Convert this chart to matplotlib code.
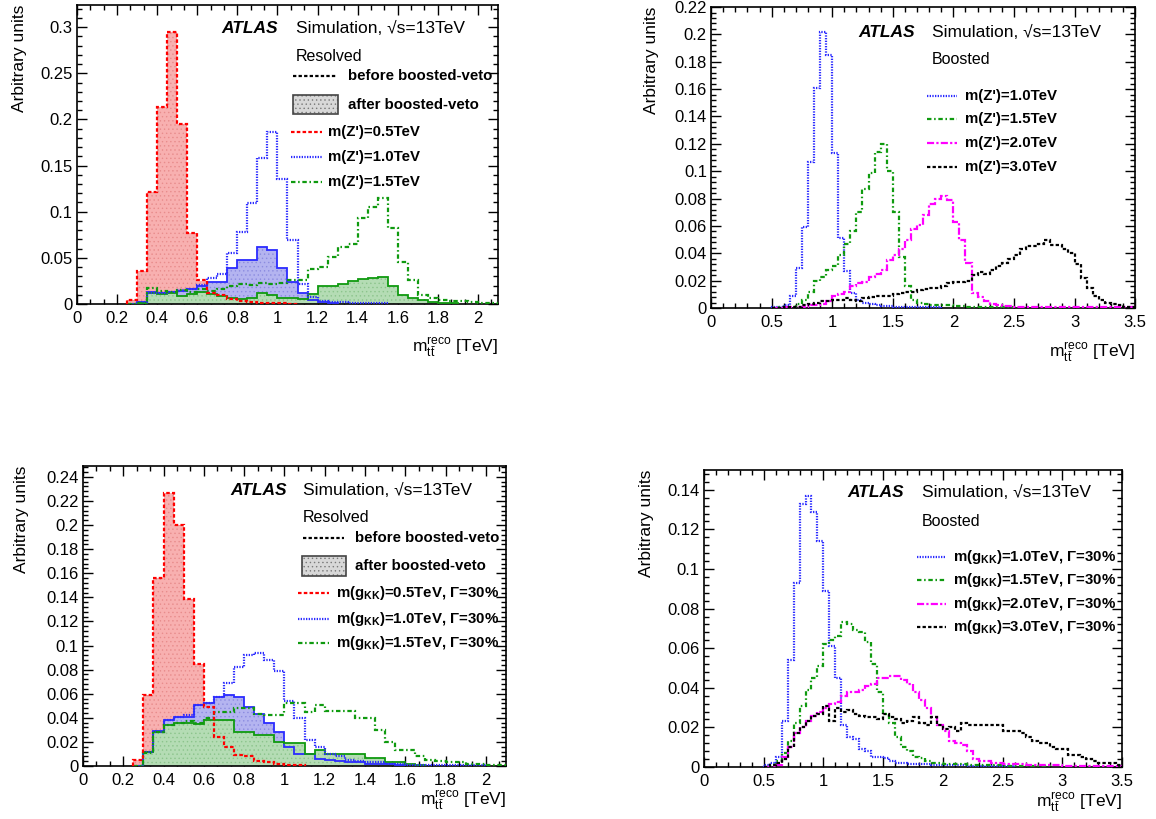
import numpy as np
import matplotlib
matplotlib.use("Agg")
import matplotlib.pyplot as plt
from matplotlib.ticker import MultipleLocator, AutoMinorLocator, FuncFormatter
from matplotlib.patches import Rectangle

plt.rcParams['font.family'] = ['Liberation Sans', 'DejaVu Sans']
plt.rcParams['mathtext.fontset'] = 'custom'
plt.rcParams['mathtext.rm'] = 'Liberation Sans'
plt.rcParams['mathtext.it'] = 'Liberation Sans:italic'
plt.rcParams['mathtext.bf'] = 'Liberation Sans:bold'
plt.rcParams['hatch.linewidth'] = 0.5

# bin width of all histograms (TeV)
bw = 0.05

# ---- Resolved, Z' (bins start at 0.25 TeV) ----
res_start = 0.25
zp05_before = [0.004, 0.036, 0.121, 0.213, 0.295, 0.195, 0.077, 0.026, 0.012, 0.010,
               0.005, 0.003, 0.002, 0.001, 0.001, 0.001, 0.0005]
zp05_after = [0.004, 0.036, 0.121, 0.213, 0.295, 0.195, 0.077, 0.025, 0.011, 0.008,
              0.004, 0.002, 0.001, 0.001]
zp10_before = [0.0, 0.002, 0.012, 0.012, 0.013, 0.015, 0.016, 0.021, 0.028, 0.033,
               0.055, 0.078, 0.109, 0.158, 0.186, 0.135, 0.069, 0.022, 0.008, 0.003,
               0.002, 0.002, 0.001, 0.001, 0.001, 0.001]
zp10_after = [0.0, 0.002, 0.013, 0.012, 0.013, 0.014, 0.016, 0.019, 0.024, 0.024,
              0.039, 0.048, 0.048, 0.062, 0.058, 0.039, 0.024, 0.012, 0.004, 0.002,
              0.001]
zp15_before = [0.0, 0.001, 0.017, 0.014, 0.013, 0.015, 0.013, 0.016, 0.014, 0.016,
               0.020, 0.022, 0.021, 0.023, 0.022, 0.023, 0.026, 0.026, 0.038, 0.040,
               0.051, 0.062, 0.065, 0.093, 0.105, 0.115, 0.082, 0.046, 0.026, 0.010,
               0.006, 0.004, 0.003, 0.003, 0.002, 0.001, 0.001]
zp15_after = [0.0, 0.001, 0.012, 0.011, 0.012, 0.009, 0.011, 0.013, 0.011, 0.009,
              0.007, 0.005, 0.006, 0.012, 0.010, 0.007, 0.006, 0.005, 0.011, 0.019,
              0.020, 0.022, 0.025, 0.027, 0.028, 0.029, 0.019, 0.010, 0.006, 0.004,
              0.002, 0.001, 0.001]

# ---- Resolved, g_KK (bins start at 0.25 TeV) ----
gkk05_before = [0.005, 0.059, 0.156, 0.227, 0.200, 0.139, 0.085, 0.049, 0.024, 0.016,
                0.009, 0.008, 0.004, 0.003, 0.002, 0.001, 0.001]
gkk05_after = [0.005, 0.059, 0.156, 0.227, 0.200, 0.139, 0.085, 0.048, 0.023, 0.014,
               0.008, 0.006, 0.003, 0.002, 0.001]
gkk10_before = [0.0, 0.012, 0.028, 0.038, 0.041, 0.042, 0.051, 0.052, 0.057, 0.069,
                0.082, 0.092, 0.094, 0.088, 0.079, 0.054, 0.040, 0.022, 0.016, 0.010,
                0.008, 0.005, 0.004, 0.003, 0.003, 0.002, 0.002, 0.001, 0.001, 0.001,
                0.001, 0.001, 0.001, 0.001, 0.001]
gkk10_after = [0.0, 0.012, 0.029, 0.038, 0.041, 0.041, 0.051, 0.052, 0.057, 0.059,
               0.057, 0.049, 0.043, 0.036, 0.028, 0.016, 0.010, 0.010, 0.006, 0.005,
               0.004, 0.003, 0.003, 0.002, 0.002, 0.002, 0.001]
gkk15_before = [0.0, 0.011, 0.028, 0.034, 0.036, 0.037, 0.036, 0.040, 0.045, 0.045,
                0.048, 0.048, 0.043, 0.042, 0.042, 0.052, 0.052, 0.045, 0.051, 0.046,
                0.046, 0.046, 0.040, 0.040, 0.030, 0.020, 0.013, 0.013, 0.008, 0.005,
                0.004, 0.003, 0.003, 0.002, 0.002, 0.001, 0.001]
gkk15_after = [0.0, 0.012, 0.028, 0.034, 0.036, 0.036, 0.035, 0.038, 0.038, 0.038,
               0.028, 0.028, 0.026, 0.026, 0.020, 0.019, 0.019, 0.010, 0.013, 0.010,
               0.010, 0.010, 0.010, 0.007, 0.007, 0.003, 0.003, 0.002, 0.001]

# ---- Boosted, Z' (bins start at 0.5 TeV) ----
boo_start = 0.5
bzp10 = [0.0005, 0.001, 0.002, 0.009, 0.029, 0.059, 0.107, 0.161, 0.202, 0.185,
         0.113, 0.051, 0.027, 0.011, 0.006, 0.004, 0.003, 0.002, 0.0015, 0.0015,
         0.001, 0.001, 0.001, 0.001, 0.0005, 0.0005, 0.0005, 0.0005]
bzp15 = [0.0, 0.0005, 0.001, 0.001, 0.003, 0.006, 0.012, 0.020, 0.023, 0.028,
         0.031, 0.039, 0.047, 0.056, 0.070, 0.087, 0.099, 0.114, 0.120, 0.100,
         0.070, 0.037, 0.016, 0.006, 0.004, 0.003, 0.0025, 0.0025, 0.002, 0.002,
         0.0015, 0.0015, 0.001, 0.001, 0.001, 0.001, 0.0005, 0.0005, 0.0005, 0.0005]
bzp20 = [0.0, 0.0, 0.0005, 0.0005, 0.001, 0.001, 0.002, 0.002, 0.003, 0.005,
         0.009, 0.010, 0.012, 0.016, 0.018, 0.019, 0.023, 0.025, 0.028, 0.035,
         0.039, 0.043, 0.050, 0.058, 0.061, 0.068, 0.076, 0.080, 0.082, 0.079,
         0.063, 0.050, 0.033, 0.011, 0.008, 0.005, 0.003, 0.002, 0.0015, 0.0015,
         0.001, 0.001, 0.001, 0.001, 0.001, 0.0005, 0.0005, 0.0005, 0.0005, 0.0005,
         0.0005, 0.0005, 0.0005, 0.0005, 0.0005, 0.0005, 0.0005, 0.0005, 0.0005, 0.0005]
bzp30 = [0.0, 0.0, 0.0005, 0.001, 0.001, 0.002, 0.003, 0.004, 0.005, 0.005,
         0.006, 0.006, 0.007, 0.006, 0.005, 0.007, 0.008, 0.009, 0.009, 0.009,
         0.010, 0.011, 0.012, 0.012, 0.013, 0.014, 0.015, 0.015, 0.016, 0.018,
         0.019, 0.019, 0.020, 0.024, 0.026, 0.025, 0.028, 0.031, 0.033, 0.036,
         0.039, 0.043, 0.045, 0.045, 0.047, 0.050, 0.046, 0.046, 0.043, 0.040,
         0.032, 0.022, 0.015, 0.009, 0.006, 0.004, 0.003, 0.002, 0.001, 0.001]

# ---- Boosted, g_KK (bins start at 0.5 TeV) ----
bgkk10 = [0.001, 0.002, 0.005, 0.023, 0.054, 0.093, 0.133, 0.137, 0.129, 0.114,
          0.089, 0.061, 0.045, 0.021, 0.015, 0.014, 0.009, 0.008, 0.005, 0.005,
          0.0045, 0.003, 0.002, 0.002, 0.0015, 0.0015, 0.0015, 0.0015, 0.001, 0.001,
          0.001, 0.001, 0.001, 0.001, 0.0005, 0.0005, 0.0005, 0.0005, 0.0005, 0.0005,
          0.0005, 0.0005]
bgkk15 = [0.0, 0.001, 0.003, 0.007, 0.013, 0.022, 0.031, 0.039, 0.045, 0.051,
          0.062, 0.064, 0.066, 0.073, 0.072, 0.069, 0.068, 0.063, 0.052, 0.038,
          0.027, 0.022, 0.015, 0.010, 0.008, 0.005, 0.0045, 0.003, 0.002, 0.002,
          0.0015, 0.0015, 0.0015, 0.0015, 0.001, 0.001, 0.001, 0.001, 0.001, 0.001,
          0.0005, 0.0005, 0.0005, 0.0005, 0.0005, 0.0005, 0.0005, 0.0005]
bgkk20 = [0.0, 0.0, 0.001, 0.005, 0.010, 0.017, 0.020, 0.023, 0.026, 0.028,
          0.030, 0.032, 0.033, 0.036, 0.038, 0.038, 0.039, 0.041, 0.042, 0.045,
          0.045, 0.046, 0.046, 0.044, 0.042, 0.038, 0.034, 0.030, 0.025, 0.021,
          0.018, 0.013, 0.012, 0.011, 0.008, 0.004, 0.003, 0.003, 0.002, 0.002,
          0.0015, 0.0015, 0.0015, 0.0015, 0.001, 0.001, 0.001, 0.001, 0.001, 0.001,
          0.0005, 0.0005, 0.0005, 0.0005, 0.0005, 0.0005, 0.0005, 0.0005, 0.0005, 0.0005]
bgkk30 = [0.0, 0.001, 0.002, 0.004, 0.010, 0.017, 0.020, 0.023, 0.026, 0.027,
          0.031, 0.023, 0.030, 0.028, 0.029, 0.027, 0.026, 0.025, 0.025, 0.024,
          0.027, 0.025, 0.024, 0.022, 0.023, 0.025, 0.022, 0.021, 0.025, 0.021,
          0.019, 0.020, 0.018, 0.022, 0.021, 0.021, 0.021, 0.021, 0.021, 0.021,
          0.018, 0.018, 0.018, 0.017, 0.015, 0.013, 0.012, 0.012, 0.010, 0.009,
          0.009, 0.006, 0.006, 0.005, 0.004, 0.003, 0.002, 0.002, 0.002, 0.001]

# colours and line styles (ROOT-like)
c_red, c_blue, c_green, c_mag, c_blk = '#ff0000', '#2b2bff', '#0f9a0f', '#ff00ff', '#000000'
fill_red, fill_blue, fill_green = '#f8b0b0', '#b4b4f0', '#b4dcb4'
hatch_red, hatch_blue, hatch_green = '#e88c8c', '#8c8ce0', '#8cc48c'
ls_red = (0, (1.6, 1.0))
ls_blue = (0, (0.6, 0.6))
ls_green = (0, (2.0, 1.2, 0.7, 1.2))
ls_mag = (0, (3.2, 1.0, 1.0, 1.0))
ls_blk = (0, (1.5, 1.0))
lw = 1.6
fs_tick = 12
fs_head = 12.5
fs_leg = 10.8


def edges_for(vals, start):
    return start + bw * np.arange(len(vals) + 1)


def draw_fill(ax, vals, start, fc, hc, ec=None):
    e = edges_for(vals, start)
    ax.stairs(vals, e, fill=True, facecolor=fc, edgecolor=hc, hatch='....',
              linewidth=0, zorder=2)
    if ec is not None:
        ax.stairs(vals, e, color=ec, linewidth=1.3, zorder=3)


def draw_line(ax, vals, start, color, ls, z=4):
    ax.stairs(vals, edges_for(vals, start), color=color, linestyle=ls,
              linewidth=lw, zorder=z)


def style_axes(ax, xmax, ymax, xmaj, xminor_n, ymaj, ylab_x, xlab_y):
    ax.set_xlim(0, xmax)
    ax.set_ylim(0, ymax)
    ax.xaxis.set_major_locator(MultipleLocator(xmaj))
    ax.xaxis.set_minor_locator(AutoMinorLocator(xminor_n))
    ax.yaxis.set_major_locator(MultipleLocator(ymaj))
    ax.yaxis.set_minor_locator(AutoMinorLocator(5))
    fmt = FuncFormatter(lambda v, _: '%g' % round(v, 6))
    ax.xaxis.set_major_formatter(fmt)
    ax.yaxis.set_major_formatter(fmt)
    ax.tick_params(which='both', direction='in', top=True, right=True,
                   labelsize=fs_tick, width=1.0)
    ax.tick_params(which='major', length=7)
    ax.tick_params(which='minor', length=3.5)
    ax.tick_params(axis='x', pad=5)
    ax.tick_params(axis='y', pad=3)
    for s in ax.spines.values():
        s.set_linewidth(1.2)
    ax.set_ylabel('Arbitrary units', fontsize=fs_head, loc='top')
    ax.yaxis.set_label_coords(ylab_x, 1.0)
    ax.set_xlabel(r'$\mathrm{m}_{\mathrm{t\bar{t}}}^{\mathrm{reco}}$ [TeV]',
                  fontsize=fs_head, loc='right')
    ax.xaxis.set_label_coords(1.0, xlab_y)


def header(ax, x_atlas, x_sim, y_top, y_sub, sub):
    ax.text(x_atlas, y_top, 'ATLAS', transform=ax.transAxes, fontsize=fs_head,
            fontweight='bold', style='italic', va='center', ha='left')
    ax.text(x_sim, y_top, 'Simulation, \u221as=13TeV', transform=ax.transAxes,
            fontsize=fs_head, va='center', ha='left')
    ax.text(x_sim, y_sub, sub, transform=ax.transAxes, fontsize=11.5,
            va='center', ha='left')


def leg_line(ax, x0, x1, xt, y, color, ls, label):
    ax.plot([x0, x1], [y, y], transform=ax.transAxes, color=color,
            linestyle=ls, linewidth=lw, clip_on=False)
    ax.text(xt, y, label, transform=ax.transAxes, fontsize=fs_leg,
            fontweight='bold', va='center', ha='left')


def leg_box(ax, x0, x1, y0, y1, xt, label):
    ax.add_patch(Rectangle((x0, y0), x1 - x0, y1 - y0, transform=ax.transAxes,
                           facecolor='#d8d8d8', edgecolor='#7a7a7a', hatch='....',
                           linewidth=0, clip_on=False))
    ax.add_patch(Rectangle((x0, y0), x1 - x0, y1 - y0, transform=ax.transAxes,
                           facecolor='none', edgecolor='#444444', linewidth=1.2,
                           clip_on=False))
    ax.text(xt, (y0 + y1) / 2, label, transform=ax.transAxes, fontsize=fs_leg,
            fontweight='bold', va='center', ha='left')


fig = plt.figure(figsize=(11.56, 8.19), dpi=100)
ax_tl = fig.add_axes([0.0666, 0.6288, 0.3642, 0.3651])
ax_tr = fig.add_axes([0.6151, 0.6239, 0.3668, 0.3675])
ax_bl = fig.add_axes([0.0718, 0.0647, 0.3659, 0.3663])
ax_br = fig.add_axes([0.6090, 0.0635, 0.3616, 0.3626])

# ---------- top left: resolved Z' ----------
ax = ax_tl
draw_fill(ax, zp05_after, res_start, fill_red, hatch_red)
draw_fill(ax, zp10_after, res_start, fill_blue, hatch_blue, c_blue)
draw_fill(ax, zp15_after, res_start, fill_green, hatch_green, c_green)
draw_line(ax, zp05_before, res_start, c_red, ls_red, 5)
draw_line(ax, zp10_before, res_start, c_blue, ls_blue)
draw_line(ax, zp15_before, res_start, c_green, ls_green)
style_axes(ax, 2.1, 0.324, 0.2, 3, 0.05, -0.119, -0.105)
header(ax, 0.344, 0.520, 0.920, 0.829, 'Resolved')
leg_line(ax, 0.513, 0.618, 0.644, 0.763, c_blk, ls_blk, 'before boosted-veto')
leg_box(ax, 0.513, 0.620, 0.635, 0.699, 0.644, 'after boosted-veto')
leg_line(ax, 0.508, 0.582, 0.596, 0.575, c_red, ls_red, "m(Z')=0.5TeV")
leg_line(ax, 0.508, 0.582, 0.596, 0.492, c_blue, ls_blue, "m(Z')=1.0TeV")
leg_line(ax, 0.508, 0.582, 0.596, 0.408, c_green, ls_green, "m(Z')=1.5TeV")

# ---------- top right: boosted Z' ----------
ax = ax_tr
draw_line(ax, bzp10, boo_start, c_blue, ls_blue)
draw_line(ax, bzp15, boo_start, c_green, ls_green)
draw_line(ax, bzp20, boo_start, c_mag, ls_mag)
draw_line(ax, bzp30, boo_start, c_blk, ls_blk)
style_axes(ax, 3.5, 0.22, 0.5, 5, 0.02, -0.123, -0.108)
header(ax, 0.347, 0.521, 0.917, 0.827, 'Boosted')
leg_line(ax, 0.509, 0.580, 0.599, 0.704, c_blue, ls_blue, "m(Z')=1.0TeV")
leg_line(ax, 0.509, 0.580, 0.599, 0.628, c_green, ls_green, "m(Z')=1.5TeV")
leg_line(ax, 0.509, 0.580, 0.599, 0.548, c_mag, ls_mag, "m(Z')=2.0TeV")
leg_line(ax, 0.509, 0.580, 0.599, 0.468, c_blk, ls_blk, "m(Z')=3.0TeV")

# ---------- bottom left: resolved g_KK ----------
gkk = r"m(g$_{\mathbf{KK}}$)=%sTeV, Γ=30%%"
ax = ax_bl
draw_fill(ax, gkk05_after, res_start, fill_red, hatch_red)
draw_fill(ax, gkk10_after, res_start, fill_blue, hatch_blue, c_blue)
draw_fill(ax, gkk15_after, res_start, fill_green, hatch_green, c_green)
draw_line(ax, gkk05_before, res_start, c_red, ls_red, 5)
draw_line(ax, gkk10_before, res_start, c_blue, ls_blue)
draw_line(ax, gkk15_before, res_start, c_green, ls_green)
style_axes(ax, 2.1, 0.249, 0.2, 3, 0.02, -0.128, -0.075)
header(ax, 0.348, 0.520, 0.920, 0.830, 'Resolved')
leg_line(ax, 0.520, 0.617, 0.643, 0.760, c_blk, ls_blk, 'before boosted-veto')
leg_box(ax, 0.518, 0.622, 0.633, 0.700, 0.643, 'after boosted-veto')
leg_line(ax, 0.508, 0.582, 0.598, 0.577, c_red, ls_red, gkk % '0.5')
leg_line(ax, 0.508, 0.582, 0.598, 0.490, c_blue, ls_blue, gkk % '1.0')
leg_line(ax, 0.508, 0.582, 0.598, 0.410, c_green, ls_green, gkk % '1.5')

# ---------- bottom right: boosted g_KK ----------
ax = ax_br
draw_line(ax, bgkk10, boo_start, c_blue, ls_blue)
draw_line(ax, bgkk15, boo_start, c_green, ls_green)
draw_line(ax, bgkk20, boo_start, c_mag, ls_mag)
draw_line(ax, bgkk30, boo_start, c_blk, ls_blk)
style_axes(ax, 3.5, 0.150, 0.5, 5, 0.02, -0.120, -0.080)
header(ax, 0.344, 0.522, 0.923, 0.828, 'Boosted')
leg_line(ax, 0.510, 0.579, 0.596, 0.707, c_blue, ls_blue, gkk % '1.0')
leg_line(ax, 0.510, 0.579, 0.596, 0.630, c_green, ls_green, gkk % '1.5')
leg_line(ax, 0.510, 0.579, 0.596, 0.549, c_mag, ls_mag, gkk % '2.0')
leg_line(ax, 0.510, 0.579, 0.596, 0.471, c_blk, ls_blk, gkk % '3.0')

fig.savefig('out.png', dpi=100)
